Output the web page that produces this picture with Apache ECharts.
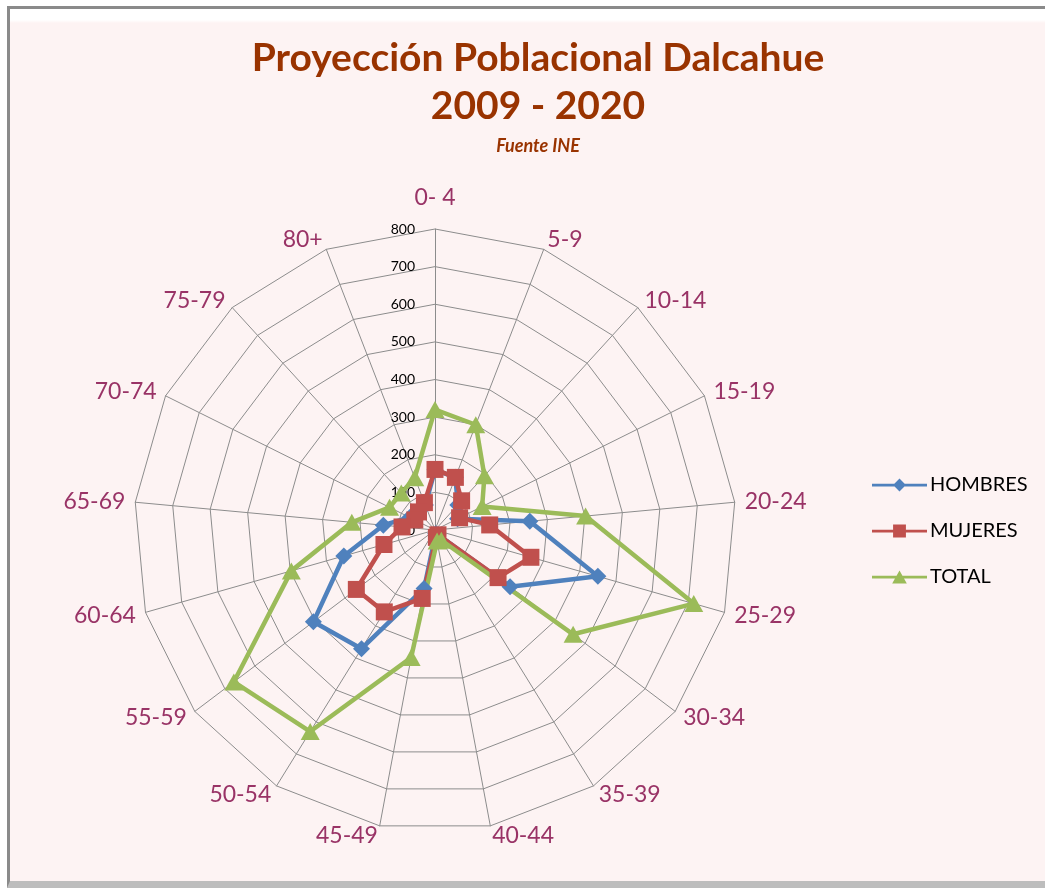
<!DOCTYPE html>
<html>
<head>
<meta charset="utf-8">
<title>Proyección Poblacional Dalcahue</title>
<script src="https://cdn.jsdelivr.net/npm/echarts@6/dist/echarts.min.js"></script>
<style>
  html, body { margin: 0; padding: 0; background: #fff; }
  #frame {
    position: absolute; left: 7px; top: 6px; width: 1045px; height: 882px;
    box-sizing: border-box;
    border-left: 3px solid #8a8a8a; border-top: 3px solid #8a8a8a; border-bottom: 7px solid #bdbdbd;
    background: linear-gradient(#ffffff 0px, #ffffff 11px, #fdf3f3 14px, #fdf3f3 100%);
  }
  #chart { position: absolute; left: 0; top: 0; width: 1045px; height: 895px; }
</style>
</head>
<body>
<div id="frame"></div>
<div id="chart"></div>
<script>
// grupos de edad
var categories = ['0- 4', '5-9', '10-14', '15-19', '20-24', '25-29', '30-34', '35-39', '40-44',
                  '45-49', '50-54', '55-59', '60-64', '65-69', '70-74', '75-79', '80+'];
var hombres = [160, 150, 90, 67, 253, 450, 250, 15, 10, 158, 371, 405, 252, 138, 75, 68, 71];
var mujeres = [161, 150, 105, 73, 146, 265, 210, 15, 20, 185, 256, 262, 141, 88, 60, 65, 78];
var total   = [320, 300, 195, 140, 402, 715, 460, 32, 30, 345, 630, 670, 397, 222, 135, 133, 149];
var axisMax = 800;

// echarts coloca los ejes en sentido antihorario, se reordena para ir en sentido horario
var order = [0];
for (var k = categories.length - 1; k > 0; k--) order.push(k);
function reorder(arr) { return order.map(function (i) { return arr[i]; }); }

var fontName = 'Lato';
var indicators = order.map(function (i, idx) {
  var ind = { name: categories[i], min: 0, max: axisMax };
  if (idx === 0) {
    ind.nameGap = 20;
    ind.axisLabel = { show: true, color: '#000', fontSize: 14, fontFamily: fontName, margin: 20 };
  }
  return ind;
});

var chart = echarts.init(document.getElementById('chart'));
chart.setOption({
  backgroundColor: 'transparent',
  title: [
    { text: 'Proyección Poblacional Dalcahue', left: 533, top: 34, textAlign: 'center',
      textStyle: { color: '#993300', fontSize: 39, fontWeight: 'bold', fontFamily: fontName } },
    { text: '2009 - 2020', left: 533, top: 82, textAlign: 'center',
      textStyle: { color: '#993300', fontSize: 39, fontWeight: 'bold', fontFamily: fontName } },
    { text: 'Fuente INE', left: 533, top: 132, textAlign: 'center',
      textStyle: { color: '#993300', fontSize: 18, fontWeight: 'bold', fontStyle: 'italic', fontFamily: fontName } }
  ],
  legend: {
    orient: 'vertical',
    left: 867,
    top: 470,
    itemWidth: 55,
    itemHeight: 14,
    itemGap: 26,
    textStyle: { color: '#000', fontSize: 20, fontFamily: fontName, padding: [0, 0, 0, -2] },
    data: [
      { name: 'HOMBRES', icon: 'path://M0,5.5L60,5.5L60,8.5L0,8.5Z M30,0L37,7L30,14L23,7Z' },
      { name: 'MUJERES', icon: 'path://M0,5.5L60,5.5L60,8.5L0,8.5Z M23,0L37,0L37,14L23,14Z' },
      { name: 'TOTAL',   icon: 'path://M0,5.5L60,5.5L60,8.5L0,8.5Z M30,0L38,14L22,14Z' }
    ]
  },
  radar: {
    center: [435, 530],
    radius: 301,
    startAngle: 90,
    splitNumber: 8,
    shape: 'polygon',
    indicator: indicators,
    nameGap: 10,
    axisName: { color: '#993366', fontSize: 23, fontFamily: fontName },
    axisLine: { lineStyle: { color: '#8c8c8c', width: 1 } },
    splitLine: { lineStyle: { color: '#8c8c8c', width: 1 } },
    splitArea: { show: false },
    axisTick: { show: false },
    axisLabel: { show: false }
  },
  series: [{
    type: 'radar',
    data: [
      { name: 'HOMBRES', value: reorder(hombres), symbol: 'diamond', symbolSize: 17,
        itemStyle: { color: '#4f81bd' }, lineStyle: { color: '#4f81bd', width: 4.5 } },
      { name: 'MUJERES', value: reorder(mujeres), symbol: 'rect', symbolSize: 17,
        itemStyle: { color: '#c0504d' }, lineStyle: { color: '#c0504d', width: 4.5 } },
      { name: 'TOTAL', value: reorder(total), symbol: 'triangle', symbolSize: [19, 17],
        itemStyle: { color: '#9bbb59' }, lineStyle: { color: '#9bbb59', width: 4.5 } }
    ]
  }]
});
</script>
</body>
</html>
